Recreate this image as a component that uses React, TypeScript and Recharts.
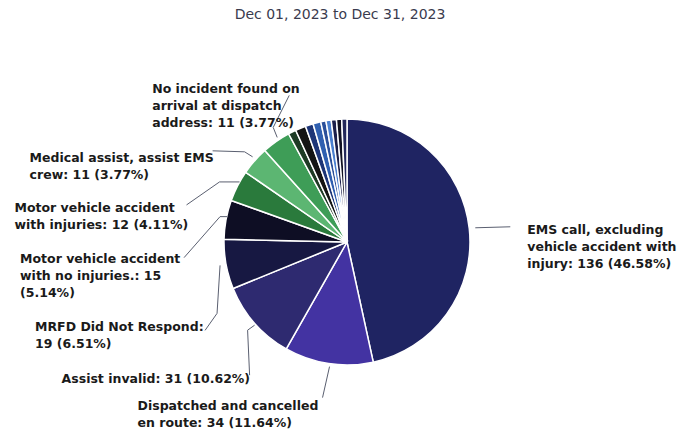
import React from 'react';
import { PieChart, Pie, Cell } from 'recharts';

const title = 'Dec 01, 2023 to Dec 31, 2023';

// incident types, clockwise from 12 o'clock
const categories = [
  'EMS call, excluding vehicle accident with injury',
  'Dispatched and cancelled en route',
  'Assist invalid',
  'MRFD Did Not Respond',
  'Motor vehicle accident with no injuries.',
  'Motor vehicle accident with injuries',
  'Medical assist, assist EMS crew',
  'No incident found on arrival at dispatch address',
  'Other 1',
  'Other 2',
  'Other 3',
  'Other 4',
  'Other 5',
  'Other 6',
  'Other 7',
  'Other 8',
  'Other 9',
];
const counts = [136, 34, 31, 19, 15, 12, 11, 11, 3, 4, 3, 3, 2, 2, 2, 2, 2];

const colors = [
  '#1f2462', '#4333a2', '#2e2a70', '#171842', '#0e0e24', '#2a7a3c', '#5cb672', '#3e9d57',
  '#1e3b25', '#141414', '#1d3577', '#2f5fb0', '#2a4f9a', '#4a7fcf', '#1b1f4a', '#111122', '#23285a',
];

// label box + leader line, offsets relative to the slice's outer edge point
const labelLayout: Record<number, { tx: number; ty: number; wrap: number; pts: number[][] }> = {
  0: { tx: 58, ty: 0, wrap: 21, pts: [[6, -1], [41, -2]] },
  1: { tx: -191, ty: 41, wrap: 24, pts: [[1, 3], [-6, 34]] },
  2: { tx: -193, ty: 55, wrap: 30, pts: [[0, 2], [-7, 7], [-5, 52]] },
  3: { tx: -191, ty: 62, wrap: 21, pts: [[-6, 1], [-9, 49], [-21, 66]] },
  4: { tx: -206, ty: 38, wrap: 22, pts: [[1, -3], [-6, -3], [-42, 38]] },
  5: { tx: -223, ty: 21, wrap: 25, pts: [[2, -4], [-18, -4], [-51, 19]] },
  6: { tx: -225, ty: -4, wrap: 26, pts: [[-2, -4], [-10, -9], [-42, -10]] },
  7: { tx: -124, ty: -53, wrap: 20, pts: [[1, -4], [-3, -14], [13, -46]] },
};

const total = counts.reduce((a, b) => a + b, 0);
const data = categories.map((name, i) => ({ name, value: counts[i], fill: colors[i] }));

const RAD = Math.PI / 180;

const wrapText = (s: string, width: number) => {
  const words = s.split(' ');
  const lines: string[] = [];
  let cur = '';
  words.forEach(w => {
    const next = cur ? cur + ' ' + w : w;
    if (next.length > width && cur) {
      lines.push(cur);
      cur = w;
    } else {
      cur = next;
    }
  });
  if (cur) lines.push(cur);
  return lines;
};

const renderLabel = (props: any) => {
  const { cx, cy, midAngle, outerRadius, index, name, value } = props;
  const lay = labelLayout[index];
  if (!lay) return null;
  const ex = cx + outerRadius * Math.cos(-midAngle * RAD);
  const ey = cy + outerRadius * Math.sin(-midAngle * RAD);
  const pct = ((value / total) * 100).toFixed(2);
  const lines = wrapText(`${name}: ${value} (${pct}%)`, lay.wrap);
  const points = lay.pts.map(p => `${ex + p[0]},${ey + p[1]}`).join(' ');
  return (
    <g>
      <polyline points={points} fill="none" stroke="#5a5f70" strokeWidth={1} />
      <text
        x={ex + lay.tx}
        y={ey + lay.ty}
        fill="#1a1a1a"
        fontSize={12.5}
        fontWeight="bold"
        fontFamily="DejaVu Sans"
        dominantBaseline="central"
      >
        {lines.map((l, i) => (
          <tspan key={i} x={ex + lay.tx} dy={i === 0 ? 0 : 17}>
            {l}
          </tspan>
        ))}
      </text>
    </g>
  );
};

export default function App() {
  return (
    <div style={{ position: 'absolute', left: 0, top: 0, width: 696, height: 434, background: '#fff' }}>
      <div
        style={{
          position: 'absolute',
          left: 0,
          top: 6,
          width: 680,
          textAlign: 'center',
          fontFamily: 'DejaVu Sans',
          fontSize: 14,
          color: '#3a3b4e',
        }}
      >
        {title}
      </div>
      <PieChart width={696} height={434} margin={{ top: 0, right: 0, bottom: 0, left: 0 }}>
        <Pie
          data={data}
          dataKey="value"
          nameKey="name"
          cx={347}
          cy={242}
          outerRadius={123}
          startAngle={90}
          endAngle={-270}
          stroke="#ffffff"
          strokeWidth={1.5}
          label={renderLabel}
          labelLine={false}
          isAnimationActive={false}
        >
          {data.map((d, i) => (
            <Cell key={i} fill={d.fill} />
          ))}
        </Pie>
      </PieChart>
    </div>
  );
}
